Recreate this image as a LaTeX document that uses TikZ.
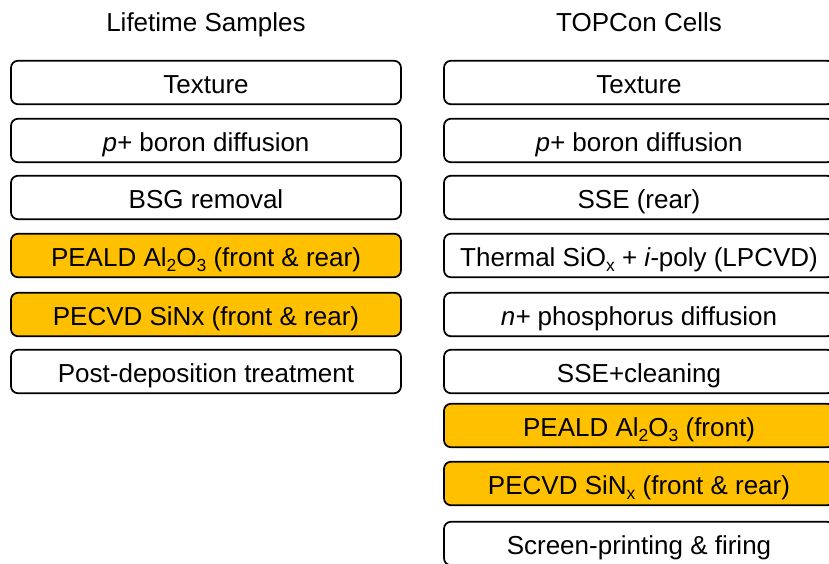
\documentclass[tikz,border=0pt]{standalone}
\usepackage{fontspec}
\setmainfont{Liberation Sans}
\definecolor{gold}{HTML}{FFC000}
\newcommand{\lowsub}[1]{\raisebox{-5.5pt}{\fontsize{17.5}{19}\selectfont #1}}
\tikzset{
  stepbox/.style={draw=black, line width=1.7pt, rounded corners=7pt, minimum width=390pt, minimum height=43.5pt, inner sep=0pt, text height=24pt, text depth=2.4pt, font=\fontsize{26}{29}\selectfont, anchor=center},
  hl/.style={stepbox, fill=gold},
  ttl/.style={font=\fontsize{26}{29}\selectfont, inner sep=0pt, text height=24pt, text depth=2.4pt}
}
\begin{document}
\begin{tikzpicture}[x=1pt,y=-1pt]
\useasboundingbox (0,0) rectangle (829,564);
\clip (0,0) rectangle (829,564);
\node[ttl] (tl) at (206,20.5) {Lifetime Samples};
\node[ttl] (tr) at (639,20.5) {TOPCon Cells};
% left column
\node[stepbox] (l1) at (206,82.5) {Texture};
\node[stepbox] (l2) at (206,140.5) {\textit{p+} boron diffusion};
\node[stepbox] (l3) at (206,197.5) {BSG removal};
\node[hl] (l4) at (206,255.5) {PEALD Al\lowsub{2}O\lowsub{3} (front \& rear)};
\node[hl] (l5) at (206,314.5) {PECVD SiNx (front \& rear)};
\node[stepbox] (l6) at (206,371.5) {Post-deposition treatment};
% right column
\node[stepbox] (r1) at (639,82.5) {Texture};
\node[stepbox] (r2) at (639,140.5) {\textit{p+} boron diffusion};
\node[stepbox] (r3) at (639,197.5) {SSE (rear)};
\node[stepbox] (r4) at (639,255.5) {Thermal SiO\lowsub{x} + \textit{i-}poly (LPCVD)};
\node[stepbox] (r5) at (639,314.5) {\textit{n+} phosphorus diffusion};
\node[stepbox] (r6) at (639,371.5) {SSE+cleaning};
\node[hl] (r7) at (639,425.5) {PEALD Al\lowsub{2}O\lowsub{3} (front)};
\node[hl] (r8) at (639,483.5) {PECVD SiN\lowsub{x} (front \& rear)};
\node[stepbox] (r9) at (639,543.5) {Screen-printing \& firing};
\end{tikzpicture}
\end{document}
